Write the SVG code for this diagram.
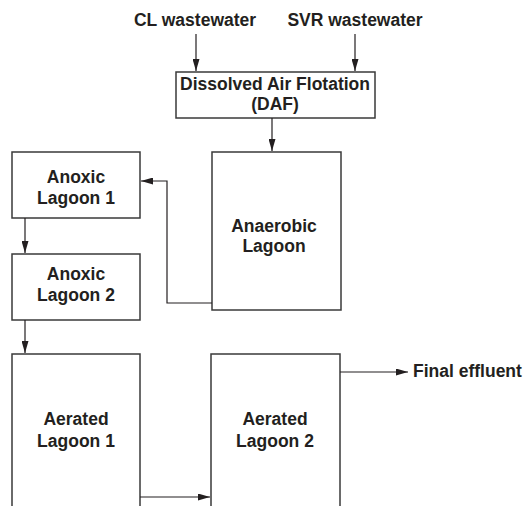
<svg xmlns="http://www.w3.org/2000/svg" width="525" height="506" viewBox="0 0 525 506">
<defs>
<marker id="ah" viewBox="0 0 12 7" refX="12" refY="3.5" markerWidth="12" markerHeight="7" markerUnits="userSpaceOnUse" orient="auto">
<path d="M0,0 L12,3.5 L0,7 Z" fill="#231f20"/>
</marker>
</defs>
<style>
.box{fill:#fff;stroke:#3a3a3a;stroke-width:1.5}
.t{font-family:"Liberation Sans",Arial,sans-serif;font-weight:bold;font-size:17.5px;fill:#231f20;text-anchor:middle}
.tl{font-family:"Liberation Sans",Arial,sans-serif;font-weight:bold;font-size:17.5px;fill:#231f20}
.c{fill:none;stroke:#231f20;stroke-width:1.2;marker-end:url(#ah)}
</style>
<rect width="525" height="506" fill="#fff"/>
<g id="cl"><text class="t" x="195" y="26">CL wastewater</text></g>
<g id="svr"><text class="t" x="355" y="26">SVR wastewater</text></g>
<g id="daf"><rect class="box" x="176" y="72" width="199" height="46"/>
<text class="t" x="275" y="90">Dissolved Air Flotation</text>
<text class="t" x="275" y="110">(DAF)</text></g>
<g id="anaerobic"><rect class="box" x="212" y="152" width="129" height="158"/>
<text class="t" x="274" y="232">Anaerobic</text>
<text class="t" x="274" y="252">Lagoon</text></g>
<g id="anoxic1"><rect class="box" x="12" y="152" width="128" height="66"/>
<text class="t" x="76" y="183">Anoxic</text>
<text class="t" x="76" y="204">Lagoon 1</text></g>
<g id="anoxic2"><rect class="box" x="12" y="254" width="128" height="66"/>
<text class="t" x="76" y="280">Anoxic</text>
<text class="t" x="76" y="301">Lagoon 2</text></g>
<g id="aerated1"><rect class="box" x="12" y="354" width="128" height="170"/>
<text class="t" x="76" y="425">Aerated</text>
<text class="t" x="76" y="447">Lagoon 1</text></g>
<g id="aerated2"><rect class="box" x="211" y="354" width="129" height="170"/>
<text class="t" x="275" y="425">Aerated</text>
<text class="t" x="275" y="447">Lagoon 2</text></g>
<g id="effluent"><text class="tl" x="413" y="377">Final effluent</text></g>
<g id="connectors">
<path class="c" d="M196,34 V71"/>
<path class="c" d="M355,34 V71"/>
<path class="c" d="M272,118 V151"/>
<path class="c" d="M212,303 H167 V181 H141"/>
<path class="c" d="M25,218 V253"/>
<path class="c" d="M25,320 V353"/>
<path class="c" d="M340,372 H408"/>
<path class="c" d="M140,497 H210"/>
</g>
</svg>
